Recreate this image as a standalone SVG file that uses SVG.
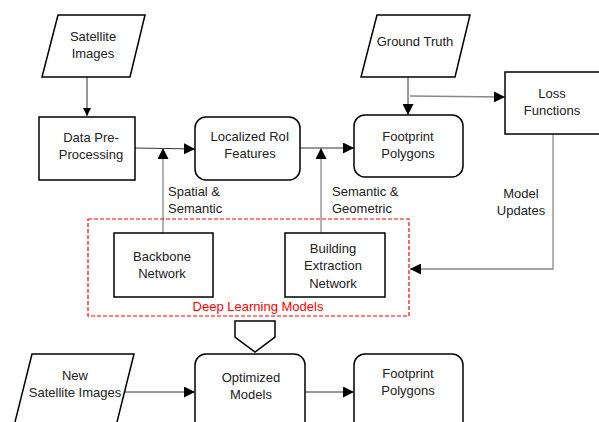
<svg xmlns="http://www.w3.org/2000/svg" width="599" height="422" viewBox="0 0 599 422">
<style>
.box{fill:#fff;stroke:#000;stroke-width:1.5}
.t{font-family:"Liberation Sans",Arial,sans-serif;font-size:13px;fill:#222;text-anchor:middle}
.l{font-family:"Liberation Sans",Arial,sans-serif;font-size:13px;fill:#222}
.c{fill:none;stroke:#333;stroke-width:1}
.g{fill:none;stroke:#888;stroke-width:1.3}
</style>
<defs>
<marker id="ah" viewBox="0 0 10 10" refX="10" refY="5" markerWidth="8" markerHeight="8" markerUnits="userSpaceOnUse" orient="auto"><path d="M0,0 L10,5 L0,10 z" fill="#000"/></marker>
<marker id="ahb" viewBox="0 0 10 10" refX="10" refY="5" markerWidth="11" markerHeight="11" markerUnits="userSpaceOnUse" orient="auto"><path d="M0,0 L10,5 L0,10 z" fill="#000"/></marker>
</defs>
<rect width="599" height="422" fill="#fff"/>
<g id="connectors">
<line class="c" x1="87" y1="77" x2="87" y2="116" marker-end="url(#ah)"/>
<line class="c" x1="135" y1="148" x2="195" y2="149" marker-end="url(#ahb)"/>
<line class="g" x1="163" y1="233" x2="163" y2="148" marker-end="url(#ahb)"/>
<line class="c" x1="300" y1="148" x2="354" y2="148" marker-end="url(#ahb)"/>
<line class="g" x1="321" y1="233" x2="321" y2="148" marker-end="url(#ahb)"/>
<line class="c" x1="408" y1="77" x2="408" y2="115" marker-end="url(#ahb)"/>
<line class="g" x1="410" y1="96" x2="505" y2="97" marker-end="url(#ahb)"/>
<polyline class="g" points="553,134 553,269 410,269" marker-end="url(#ahb)"/>
<line class="c" x1="125" y1="392" x2="195" y2="392" marker-end="url(#ahb)"/>
<line class="c" x1="305" y1="392" x2="354" y2="392" marker-end="url(#ahb)"/>
<text class="l" x="168" y="196">Spatial &amp;</text>
<text class="l" x="168" y="213">Semantic</text>
<text class="l" x="332" y="196">Semantic &amp;</text>
<text class="l" x="332" y="213">Geometric</text>
<text class="t" x="521" y="198">Model</text>
<text class="t" x="521" y="215">Updates</text>
</g>
<g id="satellite-images">
<polygon class="box" points="58,15 145,15 130,77 42,77"/>
<text class="t" x="93" y="41">Satellite</text>
<text class="t" x="93" y="58">Images</text>
</g>
<g id="data-preprocessing">
<rect class="box" x="39" y="117" width="96" height="63"/>
<text class="t" x="91" y="142">Data Pre-</text>
<text class="t" x="91" y="159">Processing</text>
</g>
<g id="localized-roi">
<rect class="box" x="195" y="117" width="105" height="63" rx="11"/>
<text class="t" x="250" y="141">Localized RoI</text>
<text class="t" x="250" y="158">Features</text>
</g>
<g id="ground-truth">
<polygon class="box" points="377,15 470,15 455,77 361,77"/>
<text class="t" x="415" y="46">Ground Truth</text>
</g>
<g id="footprint-polygons">
<rect class="box" x="354" y="115" width="109" height="62" rx="11"/>
<text class="t" x="408" y="141">Footprint</text>
<text class="t" x="408" y="158">Polygons</text>
</g>
<g id="loss-functions">
<rect class="box" x="505" y="72" width="96" height="62"/>
<text class="t" x="552" y="98">Loss</text>
<text class="t" x="552" y="115">Functions</text>
</g>
<g id="deep-learning-models">
<rect x="88" y="219" width="321" height="97" fill="none" stroke="#f00" stroke-width="1.2" stroke-dasharray="4,2"/>
<text class="t" x="258" y="311" style="fill:#f00">Deep Learning Models</text>
</g>
<g id="backbone-network">
<rect class="box" x="114" y="233" width="99" height="64"/>
<text class="t" x="162" y="261">Backbone</text>
<text class="t" x="162" y="278">Network</text>
</g>
<g id="building-extraction-network">
<rect class="box" x="285" y="233" width="100" height="64"/>
<text class="t" x="333" y="253">Building</text>
<text class="t" x="333" y="270">Extraction</text>
<text class="t" x="333" y="288">Network</text>
</g>
<g id="block-arrow">
<polygon class="box" points="235,321 275,321 275,337 255,352 235,337"/>
</g>
<g id="new-satellite-images">
<polygon class="box" points="32,354 134,354 116,426 14,426"/>
<text class="t" x="75" y="380">New</text>
<text class="t" x="75" y="397">Satellite Images</text>
</g>
<g id="optimized-models">
<rect class="box" x="195" y="354" width="110" height="80" rx="11"/>
<text class="t" x="251" y="382">Optimized</text>
<text class="t" x="251" y="399">Models</text>
</g>
<g id="footprint-polygons-2">
<rect class="box" x="354" y="354" width="109" height="80" rx="11"/>
<text class="t" x="408" y="378">Footprint</text>
<text class="t" x="408" y="395">Polygons</text>
</g>
</svg>
